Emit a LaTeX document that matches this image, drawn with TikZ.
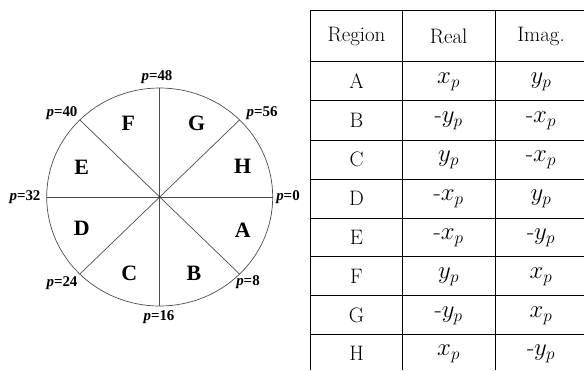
\documentclass[tikz,border=0pt]{standalone}
\usepackage{amsmath,amssymb}
\usepackage{fontspec}
\newfontfamily\lblfont{Liberation Serif}
\usepackage{tikz}
\usetikzlibrary{positioning}

\begin{document}
\begin{tikzpicture}[
  x=1bp, y=-1bp,
  spoke/.style={draw=black!70, line width=0.7bp},
  plabel/.style={font=\lblfont\fontsize{15}{17}\selectfont\bfseries, inner sep=1bp},
  region/.style={font=\lblfont\fontsize{22}{26}\selectfont\bfseries},
  cell/.style={font=\fontsize{21}{25}\selectfont, inner sep=0pt},
  mcell/.style={font=\fontsize{24}{28}\selectfont, inner sep=0pt},
  rule/.style={draw=black, line width=0.8bp}
]
  \useasboundingbox (0,0) rectangle (584,370);

  % wheel
  \coordinate (O) at (159.7,197);
  \draw[spoke] (O) ellipse [x radius=113, y radius=109];
  \coordinate (s0) at (272.7,197);
  \coordinate (s8) at (239.6,274.1);
  \coordinate (s16) at (159.7,306);
  \coordinate (s24) at (79.8,274.1);
  \coordinate (s32) at (46.7,197);
  \coordinate (s40) at (79.8,119.9);
  \coordinate (s48) at (159.7,88);
  \coordinate (s56) at (239.6,119.9);
  \draw[spoke] (s0) -- (s32);
  \draw[spoke] (s8) -- (s40);
  \draw[spoke] (s16) -- (s48);
  \draw[spoke] (s24) -- (s56);
  \fill[black!80] (O) circle (1.2bp);

  \node[plabel] (p0) at (288,197) {\textit{p}=0};
  \node[plabel] (p8) at (248,282) {\textit{p}=8};
  \node[plabel] (p16) at (159,317) {\textit{p}=16};
  \node[plabel] (p24) at (62,283) {\textit{p}=24};
  \node[plabel] (p32) at (25,197) {\textit{p}=32};
  \node[plabel] (p40) at (62,113) {\textit{p}=40};
  \node[plabel] (p48) at (157,77) {\textit{p}=48};
  \node[plabel] (p56) at (262,113) {\textit{p}=56};

  \node[region] (rA) at (242.7,230.5) {A};
  \node[region] (rB) at (194,273.3) {B};
  \node[region] (rC) at (129.3,273.3) {C};
  \node[region] (rD) at (81.7,228.3) {D};
  \node[region] (rE) at (81.7,167.3) {E};
  \node[region] (rF) at (128.3,123.3) {F};
  \node[region] (rG) at (196.7,123.3) {G};
  \node[region] (rH) at (242.7,166.7) {H};

  % table
  \draw[rule] (310.7,370) -- (310.7,10) -- (584,10);
  \draw[rule] (402.3,10) -- (402.3,370);
  \draw[rule] (495,10) -- (495,370);
  \draw[rule] (310.7,61.7) -- (584,61.7);
  \draw[rule] (310.7,100.7) -- (584,100.7);
  \draw[rule] (310.7,140) -- (584,140);
  \draw[rule] (310.7,179) -- (584,179);
  \draw[rule] (310.7,218.3) -- (584,218.3);
  \draw[rule] (310.7,256.7) -- (584,256.7);
  \draw[rule] (310.7,295.7) -- (584,295.7);
  \draw[rule] (310.7,334.3) -- (584,334.3);

  \node[cell] (hreg) at (356.5,36) {Region};
  \node[cell] (hre) at (448.6,36) {Real};
  \node[cell] (him) at (541,36) {Imag.};

  \node[cell] (tA) at (356.5,81.5) {A};
  \node[mcell] (tAre) at (448.6,81.5) {$x_p$};
  \node[mcell] (tAim) at (541,81.5) {$y_p$};
  \node[cell] (tB) at (356.5,120.5) {B};
  \node[mcell] (tBre) at (448.6,120.5) {$\text{-}y_p$};
  \node[mcell] (tBim) at (541,120.5) {$\text{-}x_p$};
  \node[cell] (tC) at (356.5,159.5) {C};
  \node[mcell] (tCre) at (448.6,159.5) {$y_p$};
  \node[mcell] (tCim) at (541,159.5) {$\text{-}x_p$};
  \node[cell] (tD) at (356.5,198.5) {D};
  \node[mcell] (tDre) at (448.6,198.5) {$\text{-}x_p$};
  \node[mcell] (tDim) at (541,198.5) {$y_p$};
  \node[cell] (tE) at (356.5,237.5) {E};
  \node[mcell] (tEre) at (448.6,237.5) {$\text{-}x_p$};
  \node[mcell] (tEim) at (541,237.5) {$\text{-}y_p$};
  \node[cell] (tF) at (356.5,276.5) {F};
  \node[mcell] (tFre) at (448.6,276.5) {$y_p$};
  \node[mcell] (tFim) at (541,276.5) {$x_p$};
  \node[cell] (tG) at (356.5,315.5) {G};
  \node[mcell] (tGre) at (448.6,315.5) {$\text{-}y_p$};
  \node[mcell] (tGim) at (541,315.5) {$x_p$};
  \node[cell] (tH) at (356.5,353.5) {H};
  \node[mcell] (tHre) at (448.6,353.5) {$x_p$};
  \node[mcell] (tHim) at (541,353.5) {$\text{-}y_p$};
\end{tikzpicture}
\end{document}
